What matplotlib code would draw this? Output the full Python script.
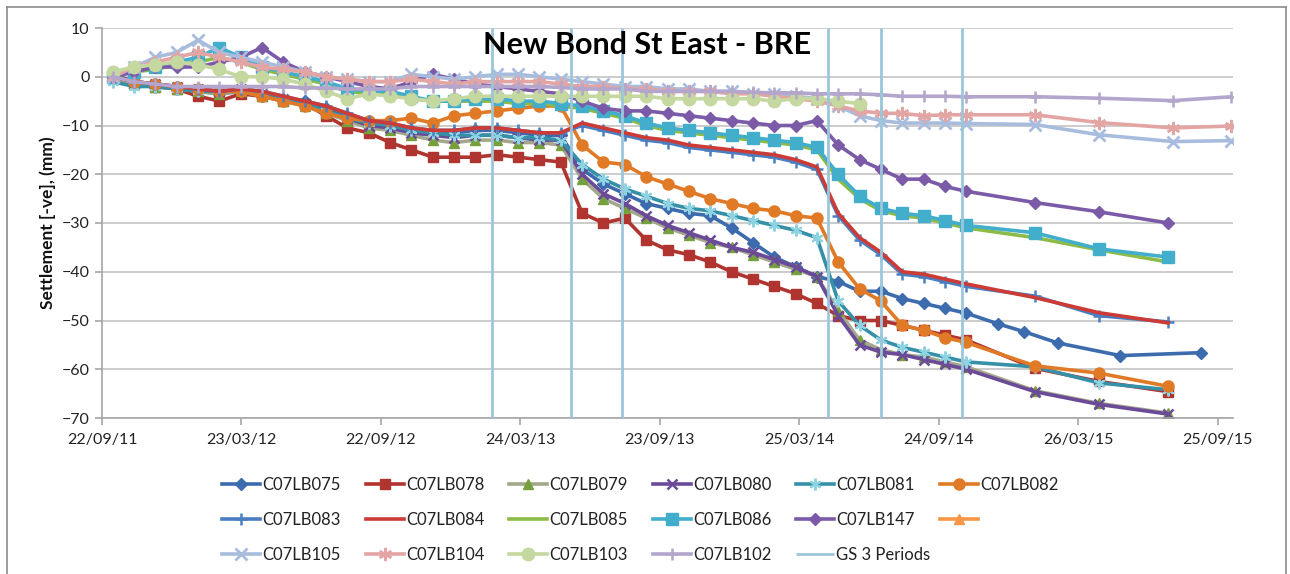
"""
Settlement monitoring chart - New Bond St East (BRE).
Readings of the C07LB.. levelling points, with the GS 3 periods marked.
"""

import matplotlib
matplotlib.use("Agg")
import matplotlib.pyplot as plt
import matplotlib.dates as mdates
from matplotlib.lines import Line2D
import numpy as np
import pandas as pd

plt.rcParams["font.family"] = ["Lato", "DejaVu Sans"]

nan = np.nan

# ---------- data ----------

# dense survey readings (every 4 weeks)
READ_DATES = [
    "2011-10-06", "2011-11-03", "2011-12-01", "2011-12-29", "2012-01-26",
    "2012-02-23", "2012-03-22", "2012-04-19", "2012-05-17", "2012-06-14",
    "2012-07-12", "2012-08-09", "2012-09-06", "2012-10-04", "2012-11-01",
    "2012-11-29", "2012-12-27", "2013-01-24", "2013-02-21", "2013-03-21",
    "2013-04-18", "2013-05-16", "2013-06-13", "2013-07-11", "2013-08-08",
    "2013-09-05", "2013-10-03", "2013-10-31", "2013-11-28", "2013-12-26",
    "2014-01-23", "2014-02-20", "2014-03-20", "2014-04-17", "2014-05-15",
    "2014-06-12", "2014-07-10", "2014-08-07", "2014-09-04", "2014-10-02",
    "2014-10-30",
]

# later, sparser readings
LATE_DATES = ["2015-01-28", "2015-04-22", "2015-07-22"]
LATE_DATES_TOP = ["2015-01-28", "2015-04-22", "2015-07-28", "2015-10-13"]
LATE_DATES_075 = ["2014-12-11", "2015-01-14", "2015-02-27", "2015-05-20", "2015-09-03"]

C07LB075 = [0, -1, -2, -2.5, -3, -3.5, -3, -4, -4.5, -5,
            -6.5, -8, -9.5, -10.5, -11, -11.5, -11.5, -11, -11, -11.5,
            -12, -12, -19, -22, -24, -26, -27, -28, -28.5, -31,
            -34, -37, -39, -41, -42, -44, -44, -45.5, -46.5, -47.5, -48.5]
C07LB075_LATE = [-50.7, -52.3, -54.6, -57.2, -56.6]

C07LB078 = [0, -1.5, -2, -2.5, -4, -5, -3.5, -4, -5, -5.5,
            -8, -10.5, -11.5, -13.5, -15, -16.5, -16.5, -16.5, -16, -16.5,
            -17, -17.5, -28, -30, -29, -33.5, -35.5, -36.5, -38, -40,
            -41.5, -43, -44.5, -46.5, -49, -50, -50, -51, -52, -53, -54]
C07LB078_LATE = [-59.8, -62.5, -64.6]

C07LB079 = [0, -1.5, -2, -2.5, -3, -3.5, -3, -4, -5, -6,
            -7.5, -9, -10.5, -11, -12, -13, -13.5, -13, -13, -13.5,
            -13.5, -14, -21, -25, -27, -29, -31, -32.5, -34, -35,
            -36.5, -38, -39.5, -41, -48, -54, -56, -57, -57.5, -58.5, -59.5]
C07LB079_LATE = [-64.4, -67, -69]

C07LB080 = [0.5, -1, -1.5, -2, -2.5, -3, -2.5, -3.5, -4.5, -5.5,
            -7, -8.5, -10, -10.5, -11.5, -12, -12.5, -12, -12, -12.5,
            -13, -13, -20, -24, -26, -28.5, -30.5, -32, -33.5, -35,
            -36, -37.5, -39, -41, -49, -55, -56.5, -57, -58, -59, -60]
C07LB080_LATE = [-64.6, -67.2, -69.2]

C07LB081 = [-1, -2, -2, -2.5, -3, -3, -3, -3.5, -4.5, -5.5,
            -7, -8.5, -9.5, -10, -11, -11.5, -12, -12, -12, -12.5,
            -12.5, -13, -18, -21, -23, -24.5, -26, -27, -27.5, -28.5,
            -29.5, -30.5, -31.5, -33, -46, -51, -54, -55.5, -56.5, -57.5, -58.5]
C07LB081_LATE = [-59.5, -62.8, -64.2]

C07LB082 = [0, -1, -1.5, -2, -2.5, -3, -3, -4, -5, -6,
            -7.5, -8.5, -9, -9, -8.5, -9.5, -8, -7.5, -7, -6.5,
            -6, -6, -14, -17.5, -18, -20.5, -22, -23.5, -25, -26,
            -27, -27.5, -28.5, -29, -38, -43.5, -46, -51, -52, -53.5, -54.5]
C07LB082_LATE = [-59.3, -60.8, -63.5]

C07LB083 = [0, -1, -1.5, -2, -2.5, -3, -2.5, -3, -4, -5,
            -6, -7.5, -9, -9.5, -10.5, -11, -11, -10.5, -10.5, -11,
            -11.5, -11.5, -10, -11, -12, -13, -13.5, -14.5, -15, -15.5,
            -16, -16.5, -17.5, -19, -28.5, -33.5, -36.5, -40.5, -41, -42, -43]
C07LB083_LATE = [-45, -49, -50.3]

C07LB084 = [0, -1, -1.5, -2, -2.5, -3, -2.5, -3, -4, -5,
            -6, -7.5, -9, -9.5, -10.5, -11, -11, -10.5, -10.5, -11,
            -11.5, -11.5, -9.5, -10.5, -11.5, -12.5, -13, -14, -14.5, -15,
            -15.5, -16, -17, -18.5, -28, -33, -36, -40, -40.5, -41.5, -42.5]
C07LB084_LATE = [-45.3, -48.4, -50.5]

C07LB085 = [0, 1, 1.5, 2.5, 3, 4, 3, 1.5, 0.5, -0.5,
            -1.5, -3, -3.5, -3.5, -4.5, -5, -5, -5, -5, -5.5,
            -5.5, -6, -6.5, -7.5, -8.5, -10, -11, -11.5, -12, -12.5,
            -13, -13.5, -14, -15, -21, -25, -27.5, -28.5, -29, -30, -31]
C07LB085_LATE = [-33, -35.5, -38]

C07LB086 = [0, 1, 2, 3, 4, 6, 4, 2, 1, 0,
            -1, -2.5, -3, -3, -4, -5, -5, -4.5, -4.5, -5,
            -5, -5.5, -6, -7, -8, -9.5, -10.5, -11, -11.5, -12,
            -12.5, -13, -13.5, -14.5, -20, -24.5, -27, -28, -28.5, -29.5, -30.5]
C07LB086_LATE = [-32, -35.3, -37]

C07LB147 = [0, 1, 2, 2, 2, 3, 4, 6, 3, 1,
            0, -1, -2, -2.5, -1, 0.5, -0.5, -1.5, -2, -2.5,
            -3, -3.5, -5, -6.5, -7, -7, -7.5, -8, -8.5, -9,
            -9.5, -10, -10, -9, -14, -17, -19, -21, -21, -22.5, -23.5]
C07LB147_LATE = [-25.8, -27.7, -30]

C07LB105 = [0, 2, 4, 5, 7.5, 5, 4, 3, 2, 1,
            0, -0.5, -1, -1, 0.5, 0, -0.5, 0, 0.5, 0.5,
            0, -0.5, -1, -1.5, -2, -2, -2.5, -2.5, -3, -3,
            -3.5, -3.5, -4, -4.5, -6, -8, -9, -9.5, -9.5, -9.5, -9.6]
C07LB105_LATE = [-9.8, -11.9, -13.3, -13.1]

C07LB104 = [0, 2, 3, 4, 5, 4, 3, 2, 1.5, 1,
            0, -0.5, -1, -1, -0.5, -1, -1.5, -1, -1, -1,
            -1, -1.5, -2, -2, -2.5, -2.5, -3, -3, -3, -3.5,
            -3.5, -4, -4.5, -5, -6, -7, -7.5, -7.5, -8, -7.8, -7.8]
C07LB104_LATE = [-7.8, -9.4, -10.5, -10.1]

C07LB103 = [1, 2, 2.5, 3, 2.5, 1.5, 0, 0, -0.5, -1.5,
            -3, -4.5, -3.5, -4, -4.5, -5, -4.5, -4, -4, -4,
            -4, -4, -4, -4, -4, -4, -4.5, -4.5, -4.5, -4.5,
            -4.5, -5, -4.5, -4.5, -5, -5.5, nan, nan, nan, nan, nan]

C07LB102 = [0, -1, -1.5, -2, -2, -2, -2, -2, -2, -2.3,
            -2.3, -2.5, -2.5, -2.5, -2, -2, -2, -2, -2, -2,
            -2, -2.2, -2.5, -2.5, -2.5, -3, -3, -3, -3, -3,
            -3.2, -3.3, -3.3, -3.5, -3.5, -3.5, -3.7, -4, -4, -4, -4.1]
C07LB102_LATE = [-4.1, -4.4, -4.9, -4.1]

# GS 3 periods (vertical markers)
GS_PERIODS = ["2013-02-15", "2013-05-30", "2013-08-04",
              "2014-05-01", "2014-07-10", "2014-10-24"]

X_TICK_LABELS = ["22/09/11", "23/03/12", "22/09/12", "24/03/13", "23/09/13",
                 "25/03/14", "24/09/14", "26/03/15", "25/09/15"]
X_LIMITS = ["2011-09-22", "2015-10-15"]
Y_TICKS = [10, 0, -10, -20, -30, -40, -50, -60, -70]


# ---------- styles ----------

# name: (line colour, marker, marker face, marker size, marker edge width)
STYLES = {
    "C07LB075": ("#3D6CAE", "D", "#3D6CAE", 6.5, 1.0),
    "C07LB078": ("#B0342F", "s", "#B0342F", 7.5, 1.0),
    "C07LB079": ("#A3A88C", "^", "#76A03C", 7.5, 1.0),
    "C07LB080": ("#6B4A98", "x", "#6B4A98", 7.5, 1.8),
    "C07LB081": ("#3590A8", (6, 2, 0), "#8ED3E2", 8.5, 1.5),
    "C07LB082": ("#E07A26", "o", "#E07A26", 8.0, 1.0),
    "C07LB083": ("#4A7EC0", "+", "#4A7EC0", 9.0, 1.8),
    "C07LB084": ("#CC3B36", "None", "#CC3B36", 0, 0),
    "C07LB085": ("#8DBB47", "None", "#8DBB47", 0, 0),
    "C07LB086": ("#43AECC", "s", "#43AECC", 8.0, 1.0),
    "C07LB147": ("#7B5AA8", "D", "#7B5AA8", 6.5, 1.0),
    "": ("#F79646", "^", "#F79646", 7.5, 1.0),
    "C07LB105": ("#A8BCDD", "x", "#A8BCDD", 9.0, 2.0),
    "C07LB104": ("#E2A5A4", (6, 2, 0), "#E2A5A4", 9.5, 1.7),
    "C07LB103": ("#C4D89F", "o", "#C4D89F", 9.0, 1.0),
    "C07LB102": ("#B3A5CB", "+", "#B3A5CB", 9.0, 1.8),
}
GS_COLOR = "#9CC6D9"
GRID_COLOR = "#C4C4C4"


def build_series():
    """(name, x dates, y values) in drawing order."""
    dense = pd.to_datetime(READ_DATES)
    late = pd.to_datetime(LATE_DATES)
    late_top = pd.to_datetime(LATE_DATES_TOP)
    late_075 = pd.to_datetime(LATE_DATES_075)

    def join(vals, late_x, late_vals):
        x = list(dense) + list(late_x)
        y = list(vals) + list(late_vals)
        return x, y

    series = [
        ("C07LB075", *join(C07LB075, late_075, C07LB075_LATE)),
        ("C07LB078", *join(C07LB078, late, C07LB078_LATE)),
        ("C07LB079", *join(C07LB079, late, C07LB079_LATE)),
        ("C07LB080", *join(C07LB080, late, C07LB080_LATE)),
        ("C07LB081", *join(C07LB081, late, C07LB081_LATE)),
        ("C07LB082", *join(C07LB082, late, C07LB082_LATE)),
        ("C07LB083", *join(C07LB083, late, C07LB083_LATE)),
        ("C07LB084", *join(C07LB084, late, C07LB084_LATE)),
        ("C07LB085", *join(C07LB085, late, C07LB085_LATE)),
        ("C07LB086", *join(C07LB086, late, C07LB086_LATE)),
        ("C07LB147", *join(C07LB147, late, C07LB147_LATE)),
        ("", [], []),  # unnamed series, no readings shown
        ("C07LB105", *join(C07LB105, late_top, C07LB105_LATE)),
        ("C07LB104", *join(C07LB104, late_top, C07LB104_LATE)),
        ("C07LB103", list(dense), C07LB103),
        ("C07LB102", *join(C07LB102, late_top, C07LB102_LATE)),
    ]
    return series


def main():
    W, H = 1290, 574
    fig = plt.figure(figsize=(W / 100, H / 100), dpi=100)
    ax = fig.add_axes([102 / W, 1 - 418 / H, (1233 - 102) / W, (418 - 28) / H])

    handles = {}
    for name, x, y in build_series():
        color, marker, mfc, ms, mew = STYLES[name]
        (ln,) = ax.plot(x, y, color=color, lw=2.6, marker=marker, ms=ms,
                        mfc=mfc, mec=mfc, mew=mew, solid_joinstyle="round")
        handles[name] = ln

    # GS 3 periods as vertical lines spanning the whole axis
    ymin, ymax = min(Y_TICKS), max(Y_TICKS)
    for d in pd.to_datetime(GS_PERIODS):
        (gs,) = ax.plot([d, d], [ymax, ymin], color=GS_COLOR, lw=2.0,
                        solid_capstyle="butt", zorder=5)
    handles["GS 3 Periods"] = gs

    # axes
    ax.set_ylim(ymin, ymax)
    ax.set_yticks(Y_TICKS)
    ax.set_xlim(pd.to_datetime(X_LIMITS[0]), pd.to_datetime(X_LIMITS[1]))
    xt = pd.to_datetime(X_TICK_LABELS, format="%d/%m/%y")
    ax.set_xticks(xt)
    ax.xaxis.set_major_formatter(mdates.DateFormatter("%d/%m/%y"))

    ax.grid(axis="y", color=GRID_COLOR, lw=1.2)
    ax.set_axisbelow(True)
    for s in ("top", "right"):
        ax.spines[s].set_visible(False)
    for s in ("left", "bottom"):
        ax.spines[s].set_color("#A6A6A6")
        ax.spines[s].set_linewidth(1.2)
    ax.tick_params(axis="both", colors="#A6A6A6", length=5, width=1.2,
                   labelcolor="#222222", labelsize=11.5)
    ax.tick_params(axis="x", pad=6)
    ax.tick_params(axis="y", pad=4)

    ax.set_ylabel("Settlement [-ve], (mm)", fontsize=12.5, fontweight="bold",
                  color="#111111", labelpad=4)

    fig.text(0.5015, 1 - 45 / H, "New Bond St East - BRE", ha="center",
             va="center", fontsize=22, fontweight="bold", color="#000000")

    # legend, Excel-style grid of 6 columns
    legend_cols = [
        ["C07LB075", "C07LB083", "C07LB105"],
        ["C07LB078", "C07LB084", "C07LB104"],
        ["C07LB079", "C07LB085", "C07LB103"],
        ["C07LB080", "C07LB086", "C07LB102"],
        ["C07LB081", "C07LB147", "GS 3 Periods"],
        ["C07LB082", ""],
    ]
    for k, names in enumerate(legend_cols):
        x0 = (222 + 143.5 * k) / W
        fig.legend([handles[n] for n in names], names,
                   loc="upper left", bbox_to_anchor=(x0, 1 - 477 / H),
                   frameon=False, fontsize=12, handlelength=2.3,
                   handletextpad=0.12, labelspacing=1.15, borderpad=0,
                   borderaxespad=0, labelcolor="#222222")

    # outer chart border
    border = dict(color="#8C8C8C", lw=1.2, transform=fig.transFigure)
    fig.add_artist(Line2D([7 / W, 1286 / W], [1 - 7 / H, 1 - 7 / H], **border))
    fig.add_artist(Line2D([7 / W, 7 / W], [0, 1 - 7 / H], **border))
    fig.add_artist(Line2D([1286 / W, 1286 / W], [0, 1 - 7 / H], **border))

    fig.savefig("out.png", dpi=100)


if __name__ == "__main__":
    main()
